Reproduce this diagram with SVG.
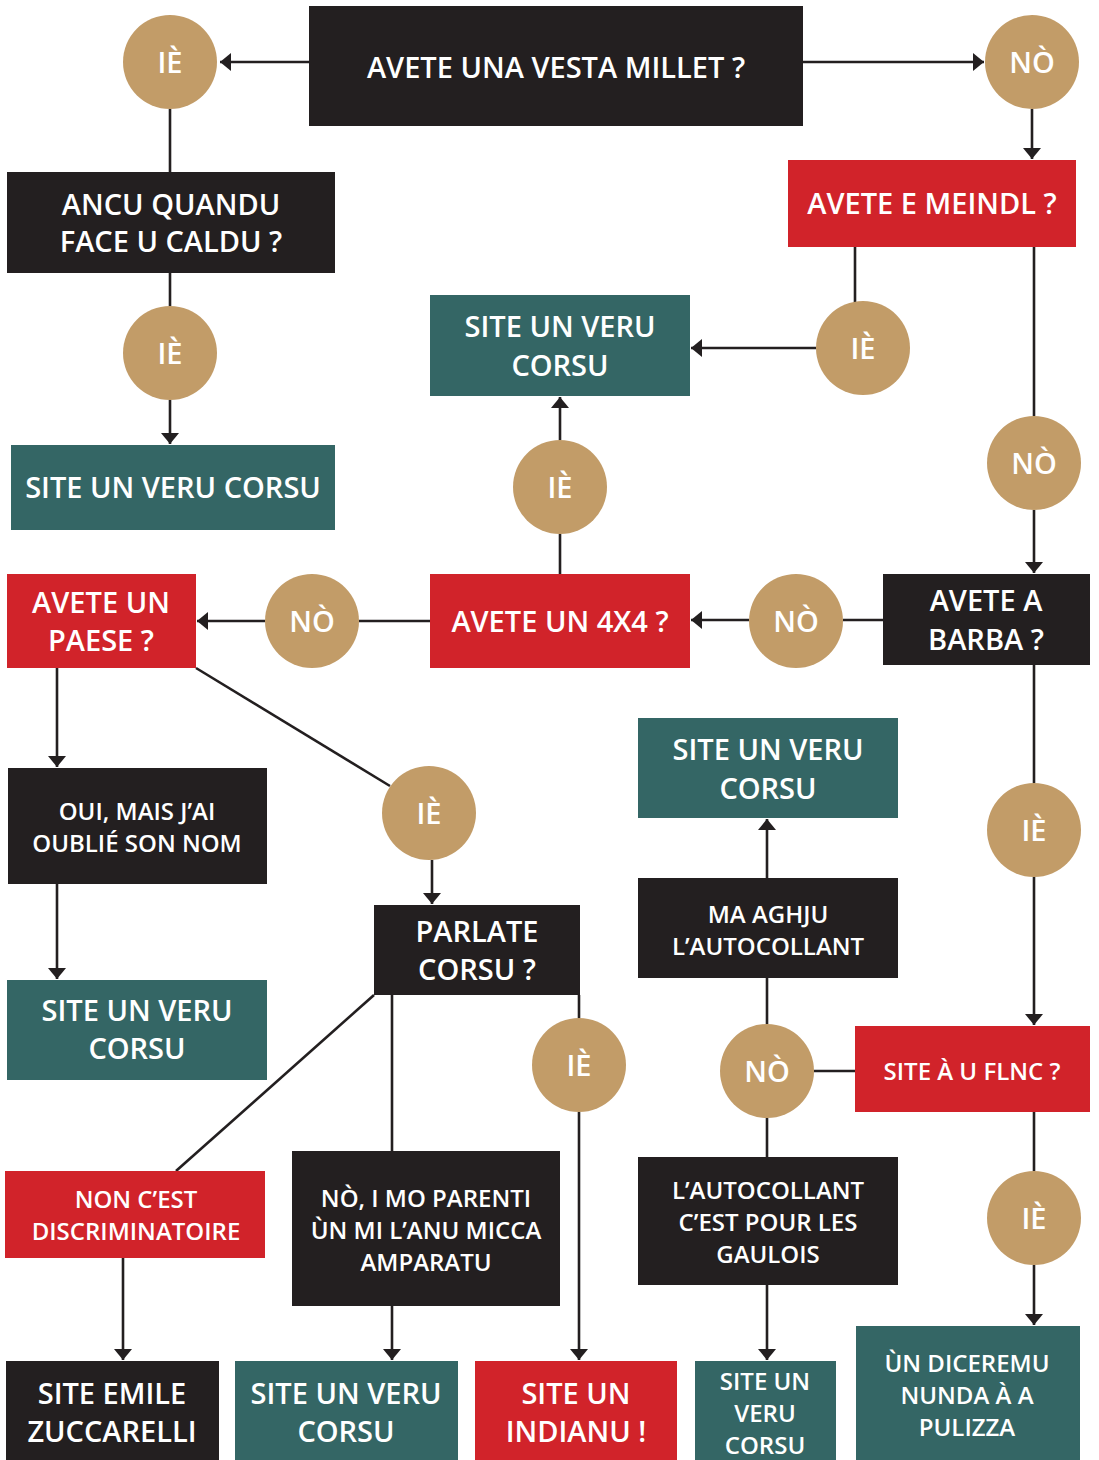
<svg xmlns="http://www.w3.org/2000/svg" width="1099" height="1460" viewBox="0 0 1099 1460">
<style>
.k{fill:#231f20}.r{fill:#d1232a}.g{fill:#346665}.c{fill:#c29c68}
text{font-family:"Open Sans","Liberation Sans",sans-serif;font-weight:600;fill:#fff;text-anchor:middle}
.L{font-size:29px}.M{font-size:24px}
.ln{stroke:#231f20;stroke-width:2.6;fill:none}
</style>
<defs>
<marker id="a" markerUnits="userSpaceOnUse" markerWidth="12" markerHeight="18" refX="11" refY="9" orient="auto"><path d="M0,0 L11,9 L0,18 Z" fill="#231f20"/></marker>
</defs>
<g id="connectors">
<line class="ln" x1="309" y1="62" x2="220" y2="62" marker-end="url(#a)"/>
<line class="ln" x1="803" y1="62" x2="984" y2="62" marker-end="url(#a)"/>
<line class="ln" x1="1032" y1="109" x2="1032" y2="159" marker-end="url(#a)"/>
<line class="ln" x1="170" y1="109" x2="170" y2="172"/>
<line class="ln" x1="170" y1="273" x2="170" y2="306"/>
<line class="ln" x1="170" y1="400" x2="170" y2="444" marker-end="url(#a)"/>
<line class="ln" x1="855" y1="247" x2="855" y2="305"/>
<line class="ln" x1="816" y1="348" x2="691" y2="348" marker-end="url(#a)"/>
<line class="ln" x1="1034" y1="247" x2="1034" y2="416"/>
<line class="ln" x1="1034" y1="510" x2="1034" y2="573" marker-end="url(#a)"/>
<line class="ln" x1="883" y1="620" x2="843" y2="620"/>
<line class="ln" x1="749" y1="620" x2="691" y2="620" marker-end="url(#a)"/>
<line class="ln" x1="560" y1="574" x2="560" y2="534"/>
<line class="ln" x1="560" y1="440" x2="560" y2="397" marker-end="url(#a)"/>
<line class="ln" x1="430" y1="621" x2="359" y2="621"/>
<line class="ln" x1="265" y1="621" x2="197" y2="621" marker-end="url(#a)"/>
<line class="ln" x1="57" y1="668" x2="57" y2="767" marker-end="url(#a)"/>
<line class="ln" x1="57" y1="884" x2="57" y2="979" marker-end="url(#a)"/>
<line class="ln" x1="196" y1="668" x2="390" y2="786"/>
<line class="ln" x1="432" y1="860" x2="432" y2="904" marker-end="url(#a)"/>
<line class="ln" x1="374" y1="995" x2="176" y2="1171"/>
<line class="ln" x1="123" y1="1258" x2="123" y2="1360" marker-end="url(#a)"/>
<line class="ln" x1="392" y1="995" x2="392" y2="1151"/>
<line class="ln" x1="392" y1="1306" x2="392" y2="1360" marker-end="url(#a)"/>
<line class="ln" x1="579" y1="995" x2="579" y2="1018"/>
<line class="ln" x1="579" y1="1112" x2="579" y2="1360" marker-end="url(#a)"/>
<line class="ln" x1="1034" y1="665" x2="1034" y2="783"/>
<line class="ln" x1="1034" y1="877" x2="1034" y2="1025" marker-end="url(#a)"/>
<line class="ln" x1="855" y1="1071" x2="814" y2="1071"/>
<line class="ln" x1="767" y1="1024" x2="767" y2="978"/>
<line class="ln" x1="767" y1="878" x2="767" y2="819" marker-end="url(#a)"/>
<line class="ln" x1="767" y1="1118" x2="767" y2="1157"/>
<line class="ln" x1="767" y1="1285" x2="767" y2="1360" marker-end="url(#a)"/>
<line class="ln" x1="1034" y1="1112" x2="1034" y2="1171"/>
<line class="ln" x1="1034" y1="1265" x2="1034" y2="1325" marker-end="url(#a)"/>
</g>
<g id="q-millet"><rect class="k" x="309" y="6" width="494" height="120"/><text class="L" x="556" y="78">AVETE UNA VESTA MILLET ?</text></g>
<g id="c-ie1"><circle class="c" cx="170" cy="62" r="47"/><text class="L" x="170" y="73">IÈ</text></g>
<g id="c-no1"><circle class="c" cx="1032" cy="62" r="47"/><text class="L" x="1032" y="73">NÒ</text></g>
<g id="q-caldu"><rect class="k" x="7" y="172" width="328" height="101"/><text class="L" x="171" y="215">ANCU QUANDU</text><text class="L" x="171" y="252">FACE U CALDU ?</text></g>
<g id="c-ie2"><circle class="c" cx="170" cy="353" r="47"/><text class="L" x="170" y="364">IÈ</text></g>
<g id="r-corsu1"><rect class="g" x="11" y="445" width="324" height="85"/><text class="L" x="173" y="498">SITE UN VERU CORSU</text></g>
<g id="q-meindl"><rect class="r" x="788" y="160" width="288" height="87"/><text class="L" x="932" y="214">AVETE E MEINDL ?</text></g>
<g id="c-ie3"><circle class="c" cx="863" cy="348" r="47"/><text class="L" x="863" y="359">IÈ</text></g>
<g id="r-corsu2"><rect class="g" x="430" y="295" width="260" height="101"/><text class="L" x="560" y="337">SITE UN VERU</text><text class="L" x="560" y="376">CORSU</text></g>
<g id="c-no2"><circle class="c" cx="1034" cy="463" r="47"/><text class="L" x="1034" y="474">NÒ</text></g>
<g id="q-barba"><rect class="k" x="883" y="574" width="207" height="91"/><text class="L" x="986" y="611">AVETE A</text><text class="L" x="986" y="650">BARBA ?</text></g>
<g id="c-no3"><circle class="c" cx="796" cy="621" r="47"/><text class="L" x="796" y="632">NÒ</text></g>
<g id="q-4x4"><rect class="r" x="430" y="574" width="260" height="94"/><text class="L" x="560" y="632">AVETE UN 4X4 ?</text></g>
<g id="c-ie4"><circle class="c" cx="560" cy="487" r="47"/><text class="L" x="560" y="498">IÈ</text></g>
<g id="c-no4"><circle class="c" cx="312" cy="621" r="47"/><text class="L" x="312" y="632">NÒ</text></g>
<g id="q-paese"><rect class="r" x="7" y="574" width="189" height="94"/><text class="L" x="101" y="613">AVETE UN</text><text class="L" x="101" y="651">PAESE ?</text></g>
<g id="r-oui"><rect class="k" x="8" y="768" width="259" height="116"/><text class="M" x="137" y="820">OUI, MAIS J’AI</text><text class="M" x="137" y="852">OUBLIÉ SON NOM</text></g>
<g id="r-corsu3"><rect class="g" x="7" y="980" width="260" height="100"/><text class="L" x="137" y="1021">SITE UN VERU</text><text class="L" x="137" y="1059">CORSU</text></g>
<g id="c-ie5"><circle class="c" cx="429" cy="813" r="47"/><text class="L" x="429" y="824">IÈ</text></g>
<g id="q-parlate"><rect class="k" x="374" y="905" width="206" height="90"/><text class="L" x="477" y="942">PARLATE</text><text class="L" x="477" y="980">CORSU ?</text></g>
<g id="r-non"><rect class="r" x="5" y="1171" width="260" height="87"/><text class="M" x="136" y="1208">NON C’EST</text><text class="M" x="136" y="1240">DISCRIMINATOIRE</text></g>
<g id="r-emile"><rect class="k" x="6" y="1361" width="213" height="99"/><text class="L" x="112" y="1404">SITE EMILE</text><text class="L" x="112" y="1442">ZUCCARELLI</text></g>
<g id="r-parenti"><rect class="k" x="292" y="1151" width="268" height="155"/><text class="M" x="426" y="1207">NÒ, I MO PARENTI</text><text class="M" x="426" y="1239">ÙN MI L’ANU MICCA</text><text class="M" x="426" y="1271">AMPARATU</text></g>
<g id="r-corsu4"><rect class="g" x="235" y="1361" width="223" height="99"/><text class="L" x="346" y="1404">SITE UN VERU</text><text class="L" x="346" y="1442">CORSU</text></g>
<g id="c-ie6"><circle class="c" cx="579" cy="1065" r="47"/><text class="L" x="579" y="1076">IÈ</text></g>
<g id="r-indianu"><rect class="r" x="475" y="1361" width="202" height="99"/><text class="L" x="576" y="1404">SITE UN</text><text class="L" x="576" y="1442">INDIANU !</text></g>
<g id="c-ie7"><circle class="c" cx="1034" cy="830" r="47"/><text class="L" x="1034" y="841">IÈ</text></g>
<g id="q-flnc"><rect class="r" x="855" y="1026" width="235" height="86"/><text class="M" x="972" y="1080">SITE À U FLNC ?</text></g>
<g id="c-no5"><circle class="c" cx="767" cy="1071" r="47"/><text class="L" x="767" y="1082">NÒ</text></g>
<g id="r-aghju"><rect class="k" x="638" y="878" width="260" height="100"/><text class="M" x="768" y="923">MA AGHJU</text><text class="M" x="768" y="955">L’AUTOCOLLANT</text></g>
<g id="r-corsu5"><rect class="g" x="638" y="718" width="260" height="100"/><text class="L" x="768" y="760">SITE UN VERU</text><text class="L" x="768" y="799">CORSU</text></g>
<g id="r-gaulois"><rect class="k" x="638" y="1157" width="260" height="128"/><text class="M" x="768" y="1199">L’AUTOCOLLANT</text><text class="M" x="768" y="1231">C’EST POUR LES</text><text class="M" x="768" y="1263">GAULOIS</text></g>
<g id="r-corsu6"><rect class="g" x="695" y="1361" width="141" height="99"/><text class="M" x="765" y="1390">SITE UN</text><text class="M" x="765" y="1422">VERU</text><text class="M" x="765" y="1454">CORSU</text></g>
<g id="c-ie8"><circle class="c" cx="1034" cy="1218" r="47"/><text class="L" x="1034" y="1229">IÈ</text></g>
<g id="r-pulizza"><rect class="g" x="856" y="1326" width="224" height="134"/><text class="M" x="967" y="1372">ÙN DICEREMU</text><text class="M" x="967" y="1404">NUNDA À A</text><text class="M" x="967" y="1436">PULIZZA</text></g>
</svg>
